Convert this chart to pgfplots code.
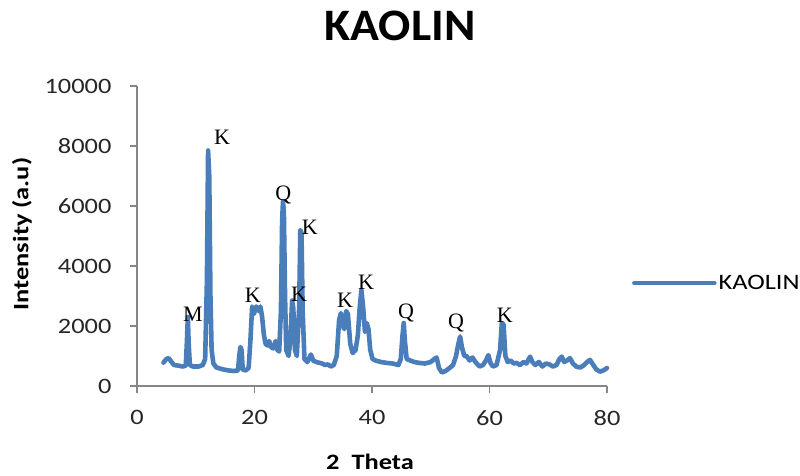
\documentclass[border=0pt]{standalone}
\usepackage{fontspec}
\setmainfont{Carlito}[FakeStretch=1.2]
\newfontfamily\titlefont{Carlito}[FakeStretch=1.06]
\newfontfamily\serifk{Liberation Serif}
\usepackage{pgfplots}
\pgfplotsset{compat=1.18}
\definecolor{xlblue}{HTML}{4A7EBB}
\definecolor{axgray}{HTML}{868686}
\pgfplotstableread{
x y
4.5 780
5.0 900
5.4 930
5.8 820
6.3 700
7.0 680
7.8 650
8.3 680
8.5 1500
8.65 2300
8.8 1400
9.0 700
9.5 650
10.5 650
11.2 700
11.6 900
11.9 3500
12.1 7850
12.3 7000
12.5 3000
12.7 1200
13.0 750
13.5 620
14.5 560
15.5 520
16.5 500
17.2 520
17.4 1000
17.6 1300
17.8 1200
18.0 550
18.5 520
19.0 600
19.3 1500
19.6 2650
19.9 2400
20.3 2650
20.7 2500
21.0 2650
21.3 2300
21.6 1700
21.9 1400
22.2 1350
22.5 1500
22.8 1300
23.2 1250
23.6 1500
23.9 1200
24.2 1150
24.5 2500
24.7 5500
24.85 6150
25.0 5800
25.2 3000
25.4 1200
25.8 1000
26.1 1500
26.4 2850
26.6 2600
26.9 1200
27.2 1000
27.6 2600
27.8 5200
28.0 5100
28.2 2500
28.5 900
29.0 800
29.6 1050
30.0 850
30.5 800
31.5 750
32.0 700
32.5 720
33.0 650
33.5 700
34.0 1000
34.4 2200
34.7 2430
35.0 2000
35.3 1900
35.6 2500
35.9 2400
36.3 1400
36.7 1100
37.2 1200
37.6 1700
37.9 2600
38.2 3200
38.5 2600
38.8 1800
39.1 2100
39.4 1900
39.7 1200
40.1 900
40.6 850
41.5 800
42.5 770
43.5 750
44.5 700
44.9 900
45.2 1700
45.4 2100
45.6 1500
45.9 900
46.5 850
47.2 800
48.0 770
49.0 750
50.0 800
50.6 900
51.0 950
51.4 600
51.9 450
52.5 500
53.2 600
53.8 700
54.3 1000
54.7 1400
55.0 1650
55.3 1300
55.7 1000
56.1 1000
56.6 850
57.1 950
57.6 800
58.3 650
58.9 700
59.4 850
59.8 1030
60.2 750
60.6 650
61.2 700
61.8 1200
62.1 2100
62.4 2050
62.7 1000
63.1 800
63.6 850
64.1 750
64.6 770
65.2 700
65.8 800
66.3 750
66.9 980
67.3 800
67.8 700
68.4 800
69.0 650
69.6 750
70.2 720
70.8 650
71.4 700
71.9 900
72.3 980
72.7 800
73.2 850
73.7 930
74.2 750
74.8 640
75.5 620
76.1 700
76.6 800
77.1 870
77.6 720
78.2 550
78.8 480
79.4 520
80.0 600
}\kaolin
\begin{document}
\begin{tikzpicture}
\useasboundingbox (0pt,0pt) rectangle (800pt,475pt);
\fill[white] (0pt,0pt) rectangle (800pt,475pt);
\begin{axis}[
  at={(137pt,89pt)}, anchor=south west,
  scale only axis, width=470pt, height=300pt,
  xmin=0, xmax=80, ymin=0, ymax=10000,
  xtick={0,20,40,60,80}, ytick={0,2000,4000,6000,8000,10000},
  scaled y ticks=false, scaled x ticks=false,
  axis x line*=bottom, axis y line*=left,
  axis line style={axgray, line width=1.2pt, -},
  tick style={axgray, line width=1.2pt},
  tick align=outside, major tick length=7pt,
  every tick label/.style={font=\fontsize{22}{26}\selectfont, text=black!85},
  xticklabel style={yshift=-14pt},
  yticklabel style={xshift=-15pt},
  /pgf/number format/assume math mode=true,
  /pgf/number format/1000 sep={},
  clip=false,
  legend style={at={(1.053,0.343)}, anchor=west, draw=none, fill=none,
    font=\fontsize{22}{26}\selectfont, inner sep=0pt},
  legend cell align=left,
  legend image code/.code={\draw[#1, line width=4.5pt] (0pt,0pt) -- (80pt,0pt);},
]
\addplot[color=xlblue, line width=4.6pt, line join=round, line cap=round] table[x=x,y=y] {\kaolin};
\addlegendentry{KAOLIN}
\begin{scope}[every node/.style={font=\serifk\fontsize{22}{24}\selectfont, inner sep=0pt}]
\node at (axis cs:9.5,2400) {M};
\node at (axis cs:14.5,8300) {K};
\node at (axis cs:24.9,6370) {Q};
\node at (axis cs:29.4,5300) {K};
\node at (axis cs:19.7,3030) {K};
\node at (axis cs:27.6,3070) {K};
\node at (axis cs:35.4,2870) {K};
\node at (axis cs:39.0,3470) {K};
\node at (axis cs:45.8,2430) {Q};
\node at (axis cs:54.3,2100) {Q};
\node at (axis cs:62.6,2370) {K};
\end{scope}
\end{axis}
\node[font=\titlefont\bfseries\fontsize{45}{48}\selectfont] at (400pt,449pt) {KAOLIN};
\node[font=\bfseries\fontsize{22}{26}\selectfont, rotate=90] at (22pt,241pt) {Intensity (a.u)};
\node[font=\bfseries\fontsize{22}{26}\selectfont] at (370pt,13pt) {2\ \ Theta};
\end{tikzpicture}
\end{document}
